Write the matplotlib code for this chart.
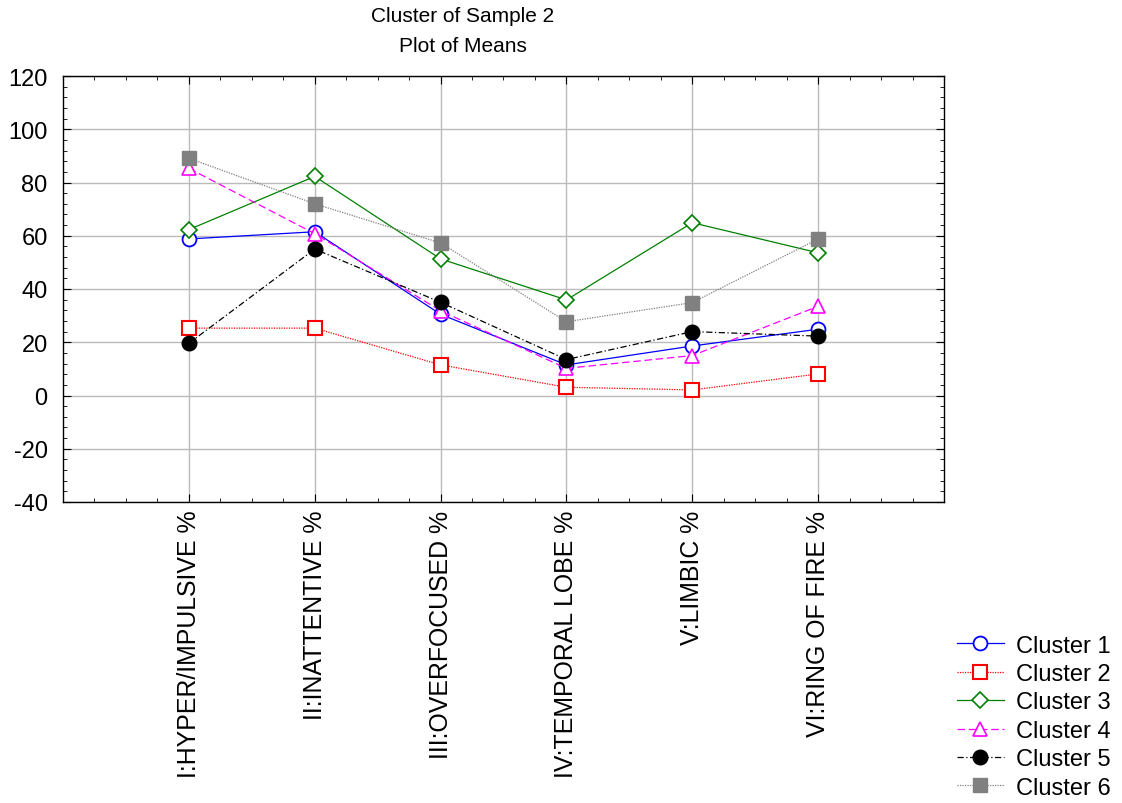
import matplotlib
matplotlib.use("Agg")
import matplotlib.pyplot as plt
from matplotlib.ticker import MultipleLocator

plt.rcParams['font.family'] = ['Liberation Sans', 'DejaVu Sans']
plt.rcParams['axes.unicode_minus'] = False

categories = ["I:HYPER/IMPULSIVE %", "II:INATTENTIVE %", "III:OVERFOCUSED %",
              "IV:TEMPORAL LOBE %", "V:LIMBIC %", "VI:RING OF FIRE %"]
cluster1 = [58.8, 61.5, 30.5, 11.5, 18.6, 24.9]
cluster2 = [25.3, 25.3, 11.5, 3.1, 2.1, 8.1]
cluster3 = [62.3, 82.3, 51.3, 35.9, 64.9, 53.6]
cluster4 = [85.3, 60.8, 31.8, 10.2, 15.0, 33.5]
cluster5 = [19.6, 55.0, 35.0, 13.5, 24.0, 22.3]
cluster6 = [89.1, 72.0, 57.3, 27.7, 34.9, 58.8]
names = ["Cluster 1", "Cluster 2", "Cluster 3", "Cluster 4", "Cluster 5", "Cluster 6"]
series = [cluster1, cluster2, cluster3, cluster4, cluster5, cluster6]

styles = [
    dict(color='blue', ls='-', marker='o', mfc='white', mec='blue', ms=10, mew=1.3),
    dict(color='red', ls=(0, (1, 1)), marker='s', mfc='white', mec='red', ms=10, mew=1.5),
    dict(color='green', ls='-', marker='D', mfc='white', mec='green', ms=8, mew=1.2),
    dict(color='magenta', ls=(0, (6, 3)), marker='^', mfc='white', mec='magenta', ms=10, mew=1.2),
    dict(color='black', ls=(0, (5, 2, 1, 2)), marker='o', mfc='black', mec='black', ms=10.5, mew=1),
    dict(color='gray', ls=(0, (1, 1)), marker='s', mfc='gray', mec='gray', ms=10.5, mew=1),
]

fig = plt.figure(figsize=(11.22, 8.04), dpi=100)
ax = fig.add_axes([63/1122, 1-503/804, (944-63)/1122, (503-77)/804])

x = list(range(1, len(categories)+1))
for s, n, st in zip(series, names, styles):
    ax.plot(x, s, label=n, lw=0.9, zorder=3, **st)

ax.set_xlim(0, 7)
ax.set_ylim(-40, 120)
ax.set_xticks(x)
ax.set_xticklabels(categories, rotation=90, fontsize=17.9)
ax.xaxis.set_minor_locator(MultipleLocator(0.25))
ax.yaxis.set_major_locator(MultipleLocator(20))
ax.yaxis.set_minor_locator(MultipleLocator(4))
ax.tick_params(axis='both', which='both', direction='in', top=True, right=True)
ax.tick_params(axis='y', which='major', length=6, labelsize=17, pad=11)
ax.tick_params(axis='x', which='major', length=6, pad=5.5)
ax.tick_params(axis='both', which='minor', length=3)
ax.grid(True, which='major', color='#bbbbbb', lw=1, zorder=0)
ax.set_axisbelow(True)
for sp in ax.spines.values():
    sp.set_linewidth(1)

fig.text(463/1122, 1-31.5/804, "Cluster of Sample 2\nPlot of Means", ha='center', va='center',
         fontsize=15, linespacing=1.72)

fig.legend(loc='lower right', bbox_to_anchor=(1120/1122, -5/804), frameon=False, fontsize=17,
           handlelength=2.0, handletextpad=0.5, labelspacing=0.27, borderaxespad=0.0)

fig.savefig("out.png", dpi=100)
